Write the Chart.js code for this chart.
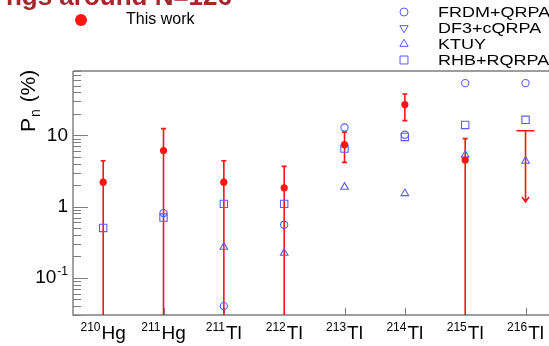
<!DOCTYPE html>
<html>
<head>
<meta charset="utf-8">
<script src="https://cdn.jsdelivr.net/npm/chart.js@4.4.1/dist/chart.umd.min.js"></script>
<style>
  html, body { margin: 0; padding: 0; background: #fff; overflow: hidden; }
  #wrap { position: relative; width: 562px; height: 346px; }
</style>
</head>
<body>
<div id="wrap"><canvas id="pnChart"></canvas></div>
<script>
// nuclei on the x axis
var massNumbers = [210, 211, 211, 212, 213, 214, 215, 216];
var elements = ['Hg', 'Hg', 'Tl', 'Tl', 'Tl', 'Tl', 'Tl', 'Tl'];
var yTickValues = [0.1, 1, 10];

// measured Pn (%) with error limits; a low limit of 0 runs off the bottom of the axis
var thisWork     = [2.2, 6.1, 2.2, 1.83, 7.4, 27, 4.5, null];
var thisWorkHigh = [4.4, 12.4, 4.4, 3.66, 11.1, 38, 9.0, null];
var thisWorkLow  = [0, 0, 0, 0, 4.17, 16.1, 0, null];
var upperLimit   = [null, null, null, null, null, null, null, 11.6];

// model predictions
var frdmQrpa = [null, 0.81, 0.04, 0.555, 12.9, 10.2, 54, 54];
var df3Cqrpa = [null, null, null, null, null, null, null, null];
var ktuy     = [null, null, 0.27, 0.222, 1.88, 1.53, 5.3, 4.36];
var rhbRqrpa = [0.50, 0.70, 1.09, 1.09, 6.5, 9.5, 14, 16.5];

var red = '#ff1414';
var blue = '#5c5cf5';
var axisGrey = '#7d7d7d';
var fontFamily = '"Liberation Sans", Arial, Helvetica, sans-serif';

var categories = massNumbers.map(function (a, i) { return a + elements[i]; });

function modelDataset(label, values, style, rotation, radius) {
    return {
        label: label,
        data: values,
        showLine: false,
        pointStyle: style,
        rotation: rotation,
        pointRadius: radius,
        pointBorderWidth: 1.1,
        pointBorderColor: blue,
        pointBackgroundColor: 'rgba(0,0,0,0)'
    };
}

var models = [
    modelDataset('FRDM+QRPA', frdmQrpa, 'circle', 0, 3.6),
    modelDataset('DF3+cQRPA', df3Cqrpa, 'triangle', 180, 4.4),
    modelDataset('KTUY', ktuy, 'triangle', 0, 4.4),
    modelDataset('RHB+RQRPA', rhbRqrpa, 'rect', 0, 5.2)
];

function drawErrorBars(chart) {
    var ctx = chart.ctx, xs = chart.scales.x, ys = chart.scales.y, area = chart.chartArea;
    ctx.save();
    ctx.strokeStyle = red;
    ctx.lineWidth = 1.6;
    thisWork.forEach(function (v, i) {
        if (v === null) return;
        var px = xs.getPixelForValue(i);
        var top = ys.getPixelForValue(thisWorkHigh[i]);
        var low = thisWorkLow[i];
        var bottom = low > 0 ? ys.getPixelForValue(low) : area.bottom;
        ctx.beginPath();
        ctx.moveTo(px, top);
        ctx.lineTo(px, bottom);
        ctx.moveTo(px - 2.5, top);
        ctx.lineTo(px + 2.5, top);
        if (low > 0) {
            ctx.moveTo(px - 2.5, bottom);
            ctx.lineTo(px + 2.5, bottom);
        }
        ctx.stroke();
    });
    // upper limit: bar plus arrow one decade down
    upperLimit.forEach(function (v, i) {
        if (v === null) return;
        var px = xs.getPixelForValue(i);
        var top = ys.getPixelForValue(v);
        var end = ys.getPixelForValue(v / 10);
        ctx.beginPath();
        ctx.moveTo(px - 9, top);
        ctx.lineTo(px + 9, top);
        ctx.moveTo(px, top);
        ctx.lineTo(px, end);
        ctx.moveTo(px - 3.5, end - 5);
        ctx.lineTo(px, end);
        ctx.lineTo(px + 3.5, end - 5);
        ctx.stroke();
    });
    ctx.restore();
}

function drawAxes(chart) {
    var ctx = chart.ctx, xs = chart.scales.x, ys = chart.scales.y, area = chart.chartArea;
    ctx.save();
    ctx.strokeStyle = axisGrey;
    ctx.lineWidth = 1.4;
    ctx.beginPath();
    ctx.moveTo(area.left, area.top);
    ctx.lineTo(area.right + 5, area.top);
    ctx.moveTo(area.left, area.top);
    ctx.lineTo(area.left, area.bottom);
    ctx.lineTo(area.right + 5, area.bottom);
    ctx.stroke();

    // log ticks, pointing into the plot
    ctx.lineWidth = 1;
    ctx.beginPath();
    for (var d = -2; d <= 1; d++) {
        for (var m = 1; m <= 9; m++) {
            var v = m * Math.pow(10, d);
            if (v < ys.min || v > ys.max) continue;
            var py = Math.round(ys.getPixelForValue(v)) + 0.5;
            var len = m === 1 ? 15 : 8;
            ctx.moveTo(area.left, py);
            ctx.lineTo(area.left + len, py);
        }
    }
    categories.forEach(function (c, i) {
        var px = Math.round(xs.getPixelForValue(i)) + 0.5;
        ctx.moveTo(px, area.bottom);
        ctx.lineTo(px, area.bottom - 7);
    });
    ctx.stroke();

    // y tick labels, powers of ten
    ctx.fillStyle = '#000';
    ctx.textBaseline = 'middle';
    yTickValues.forEach(function (v) {
        var e = Math.round(Math.log10(v));
        var py = ys.getPixelForValue(v);
        var right = area.left - 5;
        if (e === 0 || e === 1) {
            ctx.font = '19px ' + fontFamily;
            ctx.textAlign = 'right';
            ctx.fillText(e === 0 ? '1' : '10', right, py);
        } else {
            ctx.font = '12px ' + fontFamily;
            ctx.textAlign = 'right';
            var sup = String(e);
            var supW = ctx.measureText(sup).width;
            ctx.fillText(sup, right, py - 6);
            ctx.font = '19px ' + fontFamily;
            ctx.fillText('10', right - supW - 1, py);
        }
    });

    // x labels: mass number as superscript, then element
    ctx.textAlign = 'left';
    ctx.textBaseline = 'alphabetic';
    categories.forEach(function (c, i) {
        var px = xs.getPixelForValue(i);
        var mass = String(massNumbers[i]);
        ctx.font = '12px ' + fontFamily;
        var mw = ctx.measureText(mass).width;
        ctx.font = '19px ' + fontFamily;
        var ew = ctx.measureText(elements[i]).width;
        var x0 = px - (mw + 1 + ew) / 2;
        ctx.font = '12px ' + fontFamily;
        ctx.fillText(mass, x0, 331);
        ctx.font = '19px ' + fontFamily;
        ctx.fillText(elements[i], x0 + mw + 1, 339);
    });

    // y axis title P_n (%)
    ctx.save();
    ctx.translate(35, 132);
    ctx.rotate(-Math.PI / 2);
    ctx.font = '21px ' + fontFamily;
    ctx.fillText('P', 0, 0);
    var pw = ctx.measureText('P').width;
    ctx.font = '14px ' + fontFamily;
    ctx.fillText('n', pw + 1, 5);
    var nw = ctx.measureText('n').width;
    ctx.font = '21px ' + fontFamily;
    ctx.fillText(' (%)', pw + nw + 2, 0);
    ctx.restore();
    ctx.restore();
}

function drawLegends(chart) {
    var ctx = chart.ctx;
    ctx.save();
    // heading line, mostly above the top edge
    ctx.fillStyle = '#a3272b';
    ctx.font = 'bold 26px ' + fontFamily;
    ctx.textAlign = 'right';
    ctx.textBaseline = 'alphabetic';
    ctx.fillText('ngs around N=126', 232, 5);

    ctx.fillStyle = red;
    ctx.beginPath();
    ctx.arc(81, 20, 6, 0, Math.PI * 2);
    ctx.fill();
    ctx.fillStyle = '#000';
    ctx.textAlign = 'left';
    ctx.textBaseline = 'middle';
    ctx.font = '16px ' + fontFamily;
    ctx.fillText('This work', 126, 20);

    ctx.font = '15px ' + fontFamily;
    models.forEach(function (ds, i) {
        var cy = 12 + i * 16;
        ctx.strokeStyle = blue;
        ctx.fillStyle = 'rgba(0,0,0,0)';
        Chart.helpers.drawPoint(ctx, {
            pointStyle: ds.pointStyle,
            rotation: ds.rotation,
            radius: ds.pointRadius + 0.4,
            borderWidth: 1.1
        }, 404, cy);
        // model names are set a little wider than the font
        ctx.save();
        ctx.translate(438, cy + 1);
        ctx.scale(1.2, 1);
        ctx.fillStyle = '#000';
        ctx.fillText(ds.label, 0, 0);
        ctx.restore();
    });
    ctx.restore();
}

var pnDecorations = {
    id: 'pnDecorations',
    beforeDatasetsDraw: function (chart) {
        drawAxes(chart);
        drawErrorBars(chart);
    },
    afterDraw: function (chart) {
        drawLegends(chart);
    }
};

var config = {
    type: 'line',
    data: {
        labels: categories,
        datasets: [{
            label: 'This work',
            data: thisWork,
            showLine: false,
            pointStyle: 'circle',
            pointRadius: 3.6,
            pointBorderWidth: 0,
            pointBackgroundColor: red,
            pointBorderColor: red
        }].concat(models)
    },
    options: {
        responsive: true,
        maintainAspectRatio: false,
        animation: false,
        layout: { padding: { left: 73, top: 71, right: 2.4, bottom: 31 } },
        plugins: {
            legend: { display: false },
            tooltip: { enabled: false },
            title: { display: false }
        },
        scales: {
            x: { type: 'category', offset: true, display: false },
            y: { type: 'logarithmic', min: 0.03, max: 80, display: false }
        }
    },
    plugins: [pnDecorations]
};

new Chart(document.getElementById('pnChart'), config);
</script>
</body>
</html>
